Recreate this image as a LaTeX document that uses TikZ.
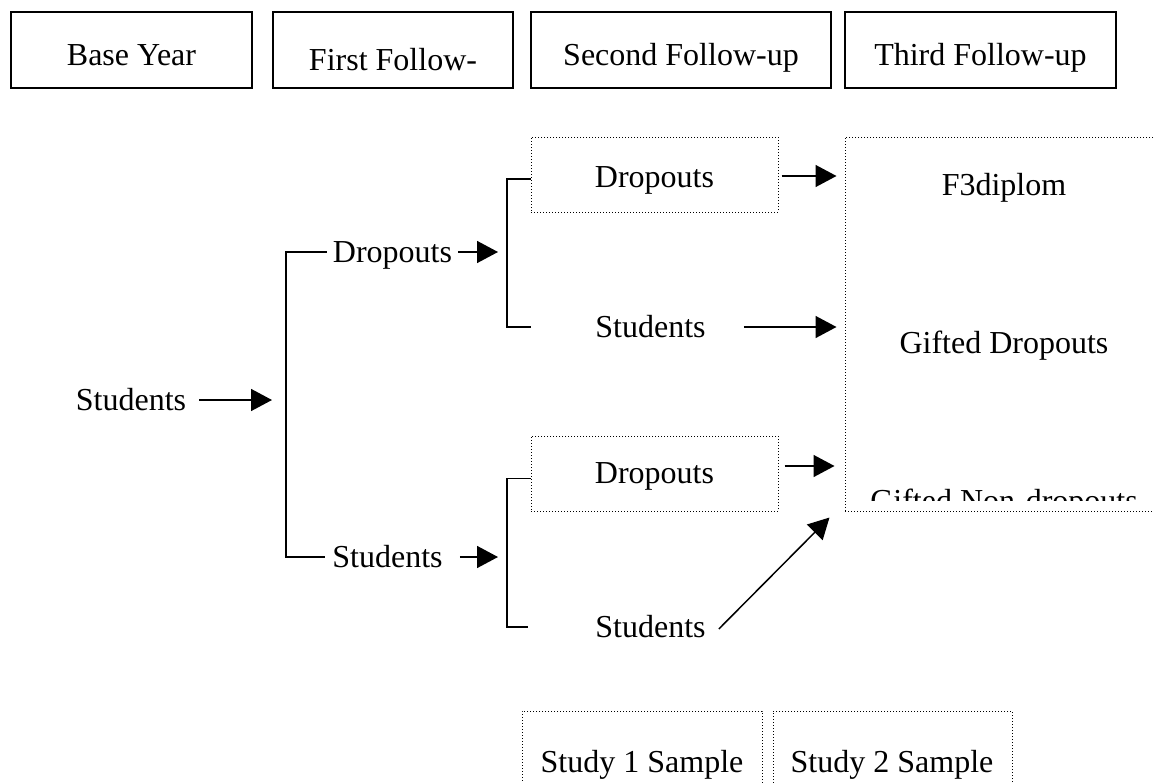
\documentclass[tikz,border=0pt]{standalone}
\usepackage{fontspec}
\setmainfont{Liberation Serif}
\usetikzlibrary{arrows.meta,positioning}

\tikzset{
  txt/.style={inner sep=0pt, text height=21pt, text depth=0pt},
  headbox/.style={draw, line width=1.6pt, inner sep=0pt, minimum height=76pt, text height=31pt, text depth=0pt},
  dotbox/.style={draw, line width=1pt, dash pattern=on 1pt off 2pt, inner sep=0pt},
  brk/.style={line width=1.5pt},
  arr/.style={line width=1.5pt, -{Triangle[length=21pt,width=22pt]}},
}

\begin{document}
\begin{tikzpicture}[x=1pt,y=-1pt,font=\fontsize{32}{38}\selectfont]

\clip (0,0) rectangle (1154,782);

% wave headings
\node[headbox, minimum width=241pt] (base) at (131.5,50) {Base Year};
\node[headbox, minimum width=240pt, text height=40pt] (first) at (393,50) {First Follow-};
\node[headbox, minimum width=300pt] (second) at (681,50) {Second Follow-up};
\node[headbox, minimum width=271pt] (third) at (980.5,50) {Third Follow-up};

% base year and first follow-up
\node[txt] (s0) at (131,400) {Students};
\node[txt] (d1) at (392.5,252) {Dropouts};
\node[txt] (s1) at (387.5,557) {Students};
\coordinate (b1) at (286,405);

\draw[arr, shorten <=13pt, shorten >=14pt] (s0.east) -- (s0.east -| b1);
\draw[brk] ([xshift=-6pt]d1.west) -| (b1) |- ([xshift=-7pt]s1.west);

% second follow-up
\node[dotbox, minimum width=247pt, minimum height=75pt, text height=33pt] (d2a) at (654.5,174.5) {Dropouts};
\node[txt] (s2a) at (650.5,327) {Students};
\node[dotbox, minimum width=247pt, minimum height=75pt, text height=27pt] (d2b) at (654.5,473.5) {Dropouts};
\node[txt] (s2b) at (650.5,627) {Students};
\coordinate (b2) at (507,253);
\coordinate (b3) at (507,553);

\draw[arr, shorten <=6pt, shorten >=9pt] (d1.east) -- (d1.east -| b2);
\draw[arr, shorten <=17pt, shorten >=9pt] (s1.east) -- (s1.east -| b3);
\draw[brk] ([yshift=-4.5pt]d2a.west) -| (b2) |- (d2a.west |- s2a.west);
\draw[brk] ([yshift=-5pt]d2b.west) -| (b3) |- ([xshift=-3pt]d2b.west |- s2b.west);

% third follow-up
\node[dotbox, minimum width=318pt, minimum height=374pt] (big) at (1004,324) {};
\node[txt] (f3) at (1004,185) {F3diplom};
\node[txt] (gd) at (1004,343) {Gifted Dropouts};
\begin{scope}
\clip (845,137) rectangle (1163,500);
\node[txt] (gnd) at (1004,501) {Gifted Non-dropouts};
\end{scope}

\coordinate (d2aout) at ([yshift=-1.5pt]d2a.east);
\coordinate (d2bout) at ([yshift=7.5pt]d2b.east);
\coordinate (s2bin) at ([shift={(-15,6)}]big.south west);

\draw[arr, shorten <=3pt, shorten >=8pt] (d2aout) -- (d2aout -| big.west);
\draw[arr, shorten <=38pt, shorten >=8pt] (s2a.east) -- (s2a.east -| big.west);
\draw[arr, shorten <=6pt, shorten >=10pt] (d2bout) -- (d2bout -| big.west);
\draw[arr] ([shift={(13,2)}]s2b.east) -- (s2bin);

% samples
\node[dotbox, minimum width=240pt, minimum height=102pt] (study1) at (642,762) {};
\node[txt] (t1) at (642,762) {Study 1 Sample};
\node[dotbox, minimum width=239pt, minimum height=102pt] (study2) at (892.5,762) {};
\node[txt] (t2) at (892,762) {Study 2 Sample};

\end{tikzpicture}
\end{document}
